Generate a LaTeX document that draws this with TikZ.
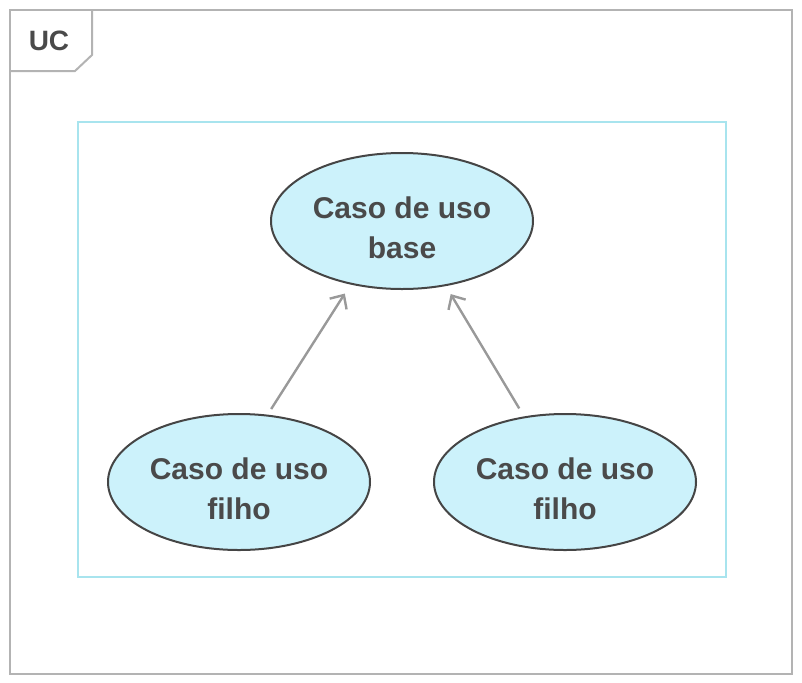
\documentclass[tikz,border=0pt]{standalone}
\usepackage{fontspec}
\setmainfont{Liberation Sans}
\usetikzlibrary{shapes.geometric,arrows.meta}
\definecolor{framegray}{HTML}{B3B3B3}
\definecolor{boxcyan}{HTML}{A8E4EE}
\definecolor{ucfill}{HTML}{CCF2FB}
\definecolor{ucline}{HTML}{454545}
\definecolor{ucarrow}{HTML}{999999}
\definecolor{uctext}{HTML}{4A4A4A}
\begin{document}
\begin{tikzpicture}[x=0.75pt, y=-0.75pt,
    usecase/.style={ellipse, draw=ucline, line width=1.5pt, fill=ucfill,
        minimum width=196.5pt, minimum height=102pt, inner sep=0pt,
        text height=57pt, text depth=1.5pt,
        align=center, text=uctext, font=\fontsize{22.5}{30}\selectfont\bfseries},
    generalize/.style={draw=ucarrow, line width=1.8pt,
        -{Straight Barb[length=8pt, width=15pt]}}]
    \useasboundingbox (0,0) rectangle (802,682);

    \draw [framegray, line width=1.5pt] (10,10) rectangle (792,674);   % draw outer frame
    \draw [framegray, line width=1.5pt] (10,71) -- (75,71) -- (92,55) -- (92,10);   % draw name tag
    \node [text=uctext, font=\fontsize{21}{24}\selectfont\bfseries] (tag) at (49,41) {UC};

    \draw [boxcyan, line width=1.2pt] (78,122) rectangle (726,577);   % draw system box

    \node [usecase] (base) at (402,221) {Caso de uso\\base};
    \node [usecase] (childa) at (239,482) {Caso de uso\\filho};
    \node [usecase] (childb) at (565,482) {Caso de uso\\filho};

    \draw [generalize, shorten <=5pt, shorten >=8pt] (childa.67) -- (base.231);   % left child to base
    \draw [generalize, shorten <=7pt, shorten >=7pt] (childb.122) -- (base.304);  % right child to base
\end{tikzpicture}
\end{document}
